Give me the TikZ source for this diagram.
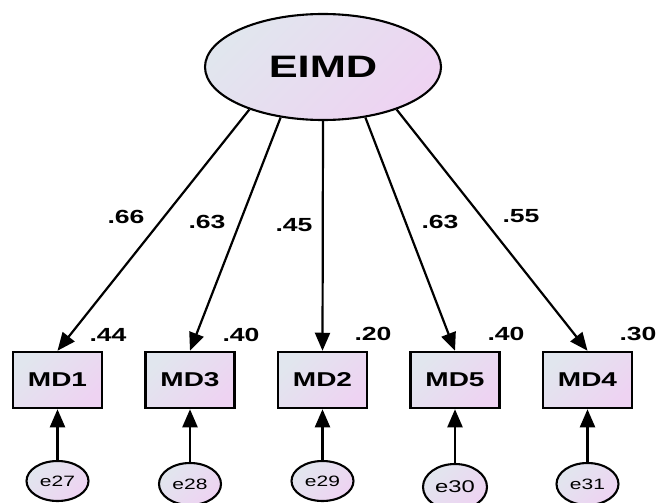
\documentclass[tikz,border=0pt]{standalone}
\usepackage{fontspec}
\setmainfont{Liberation Sans}
\newfontfamily\diagfont[FakeStretch=1.4]{Liberation Sans}
\usetikzlibrary{shapes.geometric,arrows.meta}

\definecolor{fillA}{HTML}{E1E6EE}
\definecolor{fillB}{HTML}{EED3F2}

\tikzset{
  gradfill/.style={top color=fillA, bottom color=fillB, shading angle=45},
  latent/.style={ellipse, draw, line width=2.1pt, gradfill,
    minimum width=236pt, minimum height=106pt, inner sep=0pt,
    font=\diagfont\bfseries\fontsize{31}{35}\selectfont},
  observed/.style={rectangle, draw, line width=2.5pt, gradfill,
    minimum width=89pt, minimum height=56pt, inner sep=0pt,
    font=\diagfont\bfseries\fontsize{20}{24}\selectfont},
  errvar/.style={ellipse, draw, line width=2.1pt, gradfill,
    minimum width=62pt, minimum height=40pt, inner sep=0pt,
    font=\diagfont\fontsize{15}{18}\selectfont},
  coef/.style={inner sep=0pt, font=\diagfont\bfseries\fontsize{19}{22}\selectfont},
  path/.style={line width=2.2pt, -{Triangle[length=18pt, width=15pt]}}
}

\begin{document}
\begin{tikzpicture}[x=1pt, y=-1pt]
\useasboundingbox (0,0) rectangle (659,503);

% latent factor
\node[latent] (EIMD) at (323,67) {EIMD};

% indicators
\node[observed] (MD1) at (57.5,380) {MD1};
\node[observed] (MD3) at (190,380) {MD3};
\node[observed] (MD2) at (322.5,380) {MD2};
\node[observed] (MD5) at (455,380) {MD5};
\node[observed] (MD4) at (587.5,380) {MD4};

% error terms
\node[errvar] (e27) at (57.5,481) {e27};
\node[errvar, minimum height=42pt] (e28) at (190,484) {e28};
\node[errvar] (e29) at (322.5,481) {e29};
\node[errvar, minimum width=64pt, minimum height=46pt, font=\diagfont\fontsize{17}{20}\selectfont] (e30) at (455,487) {e30};
\node[errvar, minimum height=42pt] (e31) at (587.5,484) {e31};

% loadings
\draw[path] (EIMD.210) -- (MD1.north);
\draw[path] (EIMD.230) -- (MD3.north);
\draw[path] (EIMD.270) -- (MD2.north);
\draw[path] (EIMD.310) -- (MD5.north);
\draw[path] (EIMD.330) -- (MD4.north);

% residual paths
\draw[path] (e27.north) -- (MD1.south);
\draw[path] (e28.north) -- (MD3.south);
\draw[path] (e29.north) -- (MD2.south);
\draw[path] (e30.north) -- (MD5.south);
\draw[path] (e31.north) -- (MD4.south);

% standardized loadings
\node[coef] (l1) at (126,217) {.66};
\node[coef] (l3) at (207,222) {.63};
\node[coef] (l2) at (294,225) {.45};
\node[coef] (l5) at (440,222) {.63};
\node[coef] (l4) at (521,216) {.55};

% squared multiple correlations
\node[coef] (r1) at (108,335) {.44};
\node[coef] (r3) at (241,335) {.40};
\node[coef] (r2) at (373,334) {.20};
\node[coef] (r5) at (506,334) {.40};
\node[coef] (r4) at (638,334) {.30};
\end{tikzpicture}
\end{document}
